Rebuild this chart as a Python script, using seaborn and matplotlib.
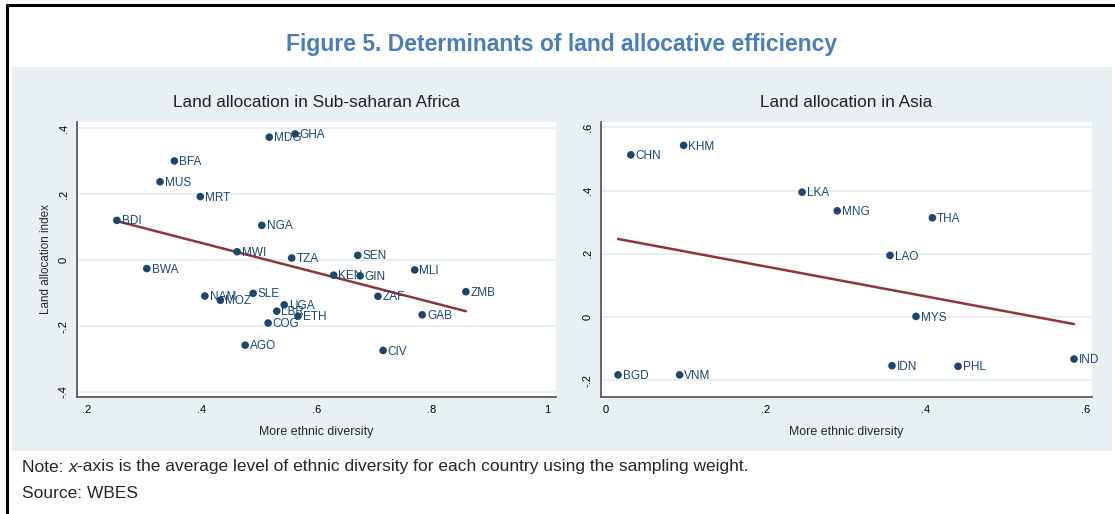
import numpy as np
import pandas as pd
import matplotlib
matplotlib.use("Agg")
import matplotlib.pyplot as plt
import seaborn as sns
from matplotlib.patches import Rectangle
from matplotlib.lines import Line2D
from matplotlib.ticker import FuncFormatter

# Data
africa_codes = ["MDG", "GHA", "BFA", "MUS", "MRT", "BDI", "NGA", "MWI", "TZA", "BWA",
                "NAM", "MOZ", "SLE", "UGA", "SEN", "KEN", "GIN", "MLI", "ZMB", "ZAF",
                "GAB", "LBR", "ETH", "COG", "AGO", "CIV"]
africa_diversity = [0.517, 0.562, 0.352, 0.327, 0.397, 0.252, 0.504, 0.461, 0.556, 0.304,
                    0.405, 0.432, 0.489, 0.543, 0.671, 0.629, 0.675, 0.770, 0.859, 0.706,
                    0.783, 0.530, 0.567, 0.515, 0.475, 0.715]
africa_land = [0.372, 0.382, 0.300, 0.237, 0.192, 0.120, 0.105, 0.025, 0.006, -0.026,
               -0.109, -0.122, -0.101, -0.136, 0.014, -0.046, -0.048, -0.030, -0.096, -0.110,
               -0.166, -0.155, -0.170, -0.191, -0.258, -0.274]

asia_codes = ["CHN", "KHM", "LKA", "MNG", "BGD", "VNM", "THA", "LAO", "MYS", "IDN", "PHL", "IND"]
asia_diversity = [0.031, 0.097, 0.245, 0.289, 0.015, 0.092, 0.408, 0.355, 0.3875, 0.3575, 0.440, 0.585]
asia_land = [0.513, 0.543, 0.395, 0.336, -0.183, -0.183, 0.314, 0.195, 0.002, -0.154, -0.156, -0.133]

africa_xticks = [0.2, 0.4, 0.6, 0.8, 1.0]
africa_yticks = [-0.4, -0.2, 0.0, 0.2, 0.4]
asia_xticks = [0.0, 0.2, 0.4, 0.6]
asia_yticks = [-0.2, 0.0, 0.2, 0.4, 0.6]

df_africa = pd.DataFrame({"code": africa_codes, "x": africa_diversity, "y": africa_land})
df_asia = pd.DataFrame({"code": asia_codes, "x": asia_diversity, "y": asia_land})

# Stata s2color-like look
navy = "#1A476F"
maroon = "#90353B"
bg = "#E9F0F3"
grid_c = "#E4ECEF"
title_blue = "#4A7EBB"

sns.set_style("white")
plt.rcParams["font.family"] = ["Liberation Sans", "DejaVu Sans"]

W, H = 1115, 514
fig = plt.figure(figsize=(W / 100, H / 100), dpi=100)
fig.patch.set_facecolor("white")

def fx(px):
    return px / W

def fy(py):
    return 1 - py / H

# light background panel and black frame lines (behind the axes)
fig.patches.append(Rectangle((fx(12), fy(451)), fx(1112) - fx(12), fy(67) - fy(451),
                             transform=fig.transFigure, facecolor=bg, edgecolor="none", zorder=-10))
fig.lines.append(Line2D([fx(7), fx(1114)], [fy(5), fy(5)], transform=fig.transFigure,
                        color="black", lw=2.2, zorder=-5))
fig.lines.append(Line2D([fx(7), fx(7)], [fy(5), fy(514)], transform=fig.transFigure,
                        color="black", lw=2.2, zorder=-5))


def stata_fmt(v, pos=None):
    if abs(v) < 1e-9:
        return "0"
    s = f"{v:g}"
    return s.replace("0.", ".")


def draw_panel(ax, df, title, xticks, yticks, xlim, ylim, ylabel=None):
    ax.set_facecolor("white")
    for y in yticks:
        ax.axhline(y, color=grid_c, lw=1.2, zorder=0)
    sns.regplot(data=df, x="x", y="y", ax=ax, ci=None, scatter=False, truncate=True,
                line_kws=dict(color=maroon, lw=1.8, zorder=2))
    sns.scatterplot(data=df, x="x", y="y", ax=ax, color=navy, s=30, edgecolor="none", zorder=3)
    for _, r in df.iterrows():
        ax.annotate(r["code"], (r["x"], r["y"]), xytext=(3.4, -0.8), textcoords="offset points",
                    va="center", ha="left", fontsize=8.5, color=navy, zorder=4)
    ax.set_xlim(*xlim)
    ax.set_ylim(*ylim)
    ax.set_xticks(xticks)
    ax.set_yticks(yticks)
    ax.xaxis.set_major_formatter(FuncFormatter(stata_fmt))
    ax.yaxis.set_major_formatter(FuncFormatter(stata_fmt))
    ax.tick_params(axis="both", direction="out", length=4, width=0.9, color="#555555",
                   labelsize=8, labelcolor="black", pad=2)
    ax.tick_params(axis="y", labelrotation=90)
    for lab in ax.get_yticklabels():
        lab.set_va("center")
    for side in ["top", "right"]:
        ax.spines[side].set_visible(False)
    for side in ["left", "bottom"]:
        ax.spines[side].set_color("#5a5a5a")
        ax.spines[side].set_linewidth(1.3)
    ax.set_title(title, fontsize=12.4, pad=11, color="#222222")
    ax.set_xlabel("More ethnic diversity", fontsize=8.9, labelpad=8)
    ax.set_ylabel(ylabel if ylabel else "", fontsize=8.4, labelpad=5)


ax1 = fig.add_axes([fx(77), fy(397), fx(556) - fx(77), fy(122) - fy(397)])
ax2 = fig.add_axes([fx(601), fy(397), fx(1092) - fx(601), fy(122) - fy(397)])

draw_panel(ax1, df_africa, "Land allocation in Sub-saharan Africa", africa_xticks, africa_yticks,
           (0.1826, 1.0157), (-0.415, 0.418), ylabel="Land allocation index")
draw_panel(ax2, df_asia, "Land allocation in Asia", asia_xticks, asia_yticks,
           (-0.0063, 0.6075), (-0.253, 0.617))

fig.text(fx(562), fy(44), "Figure 5. Determinants of land allocative efficiency", ha="center", va="center",
         fontsize=16.5, fontweight="bold", color=title_blue)

# note line with italic x
renderer = fig.canvas.get_renderer()
x0 = fx(22)
parts = [("Note: ", "normal"), ("x", "italic"),
         ("-axis is the average level of ethnic diversity for each country using the sampling weight.", "normal")]
for txt, style in parts:
    t = fig.text(x0, fy(467), txt, ha="left", va="center", fontsize=12.5, style=style)
    bb = t.get_window_extent(renderer=renderer)
    x0 += bb.width / W
fig.text(fx(22), fy(494), "Source: WBES", ha="left", va="center", fontsize=12.5)

plt.savefig("out.png", dpi=100, facecolor="white")
plt.close()
